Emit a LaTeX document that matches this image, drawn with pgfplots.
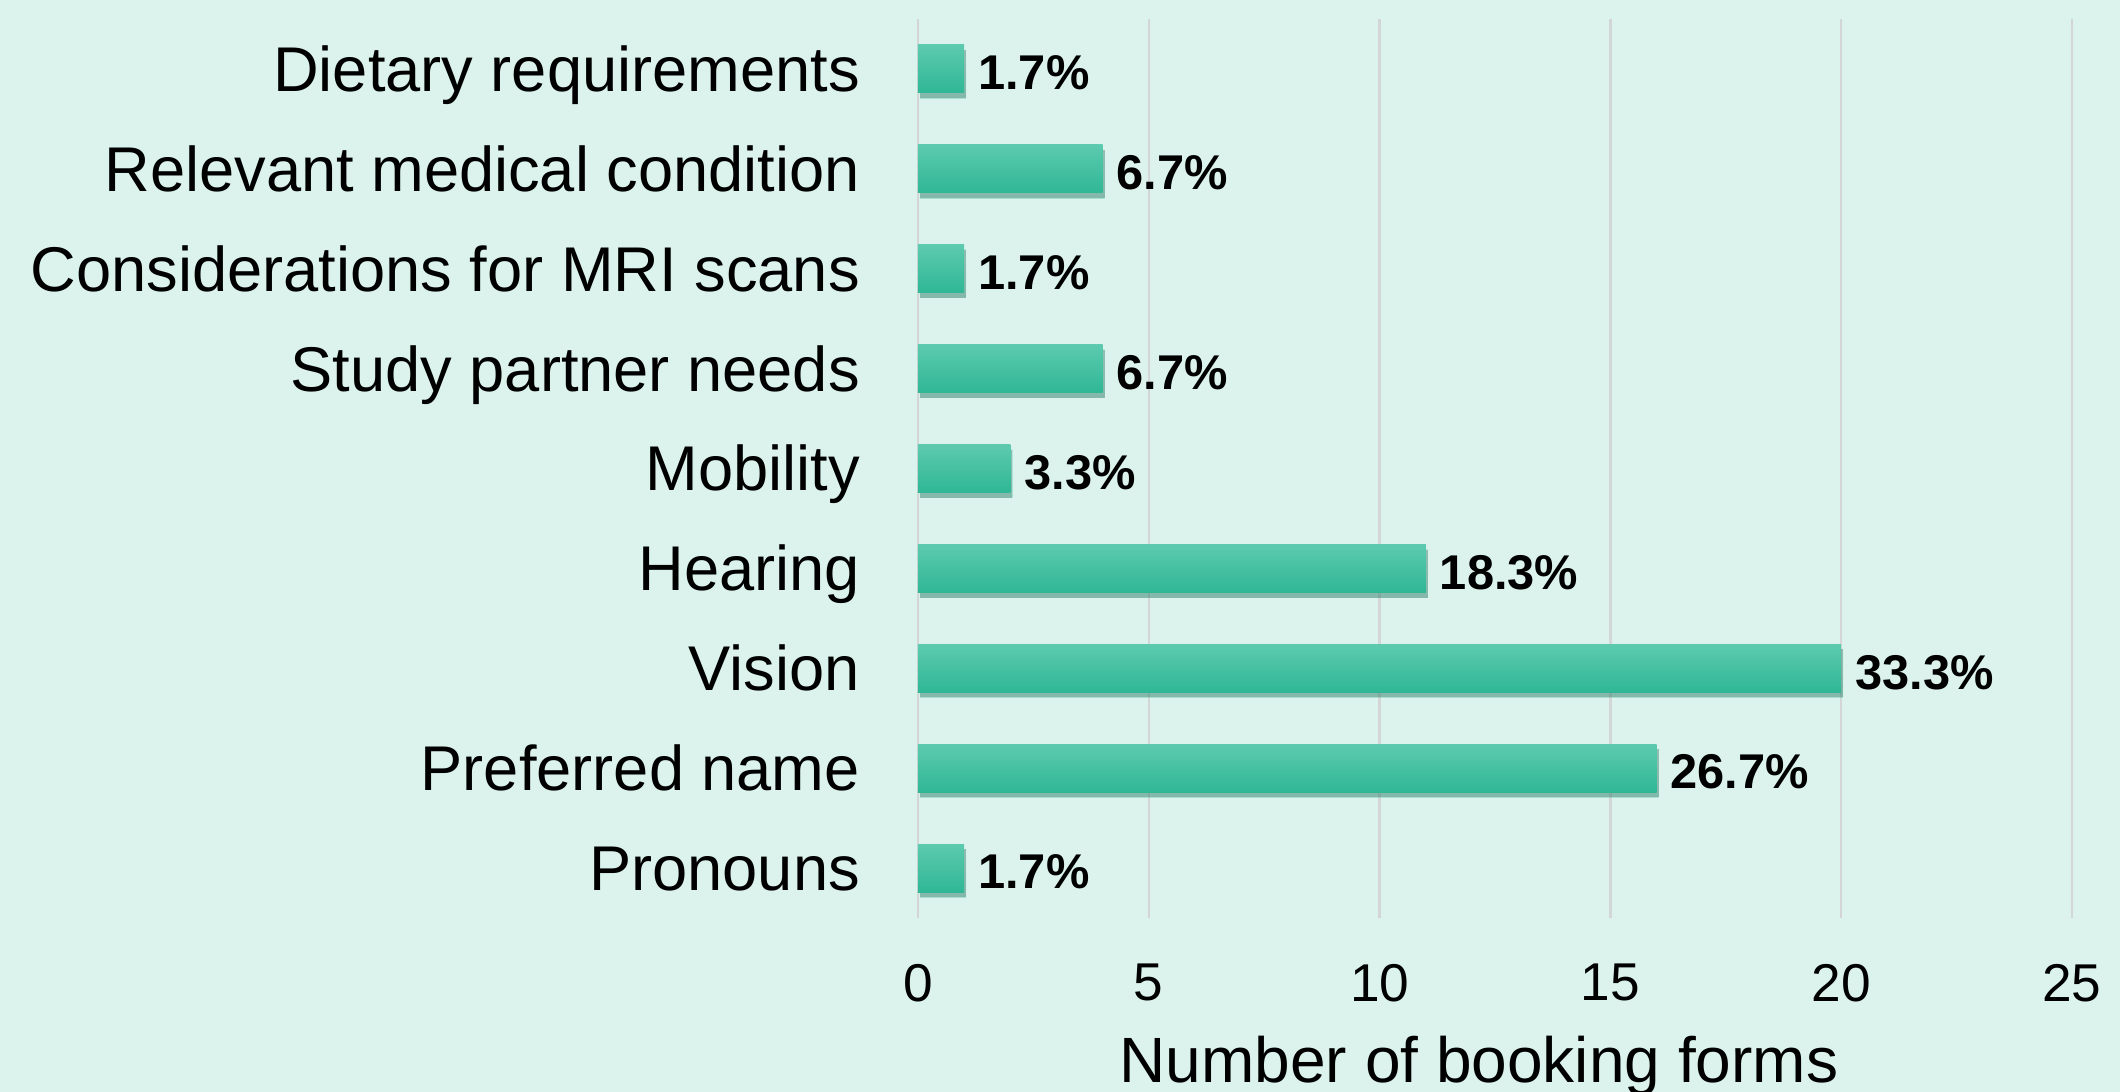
\documentclass[border=0pt]{standalone}
\usepackage{fontspec}
\setmainfont{Liberation Sans}
\usepackage{pgfplots}
\pgfplotsset{compat=1.18}
\usetikzlibrary{shadows}
\definecolor{bgc}{HTML}{DBF3EC}
\definecolor{bartop}{HTML}{5DCAAF}
\definecolor{barmid}{HTML}{42C9A8}
\definecolor{barbot}{HTML}{2FB795}
\definecolor{gridc}{HTML}{D3D6D4}
\pgfplotsset{onebar/.style={draw=none, bar shift=0pt, top color=bartop, middle color=barmid, bottom color=barbot,
  drop shadow={shadow xshift=0.5pt, shadow yshift=-1.3pt, opacity=0.3, fill=black!80}}}
\begin{document}
\begin{tikzpicture}
\path[use as bounding box] (-229.5pt,-43.5pt) rectangle (300.5pt,229.5pt);
\fill[bgc] (-229.5pt,-43.5pt) rectangle (300.5pt,229.5pt);
\begin{axis}[
  at={(0,0)}, anchor=south west,
  width=288.5pt, height=224.75pt, scale only axis,
  xbar, bar width=12pt,
  xmin=0, xmax=25, ymin=-0.5, ymax=8.5,
  enlargelimits=false,
  xtick={0,5,10,15,20,25},
  ytick={0,1,2,3,4,5,6,7,8},
  yticklabels={Pronouns,Preferred name,Vision,Hearing,Mobility,Study partner needs,Considerations for MRI scans,Relevant medical condition,Dietary requirements},
  axis line style={draw=none},
  major tick length=0pt,
  xmajorgrids, grid style={color=gridc, line width=0.6pt},
  /pgf/number format/assume math mode=true,
  xticklabel style={font=\fontsize{13.3}{15}\selectfont, anchor=north, yshift=-8pt},
  yticklabel style={font=\fontsize{15.8}{19}\selectfont, anchor=base east, xshift=-11pt, yshift=-5.6pt},
  xlabel={Number of booking forms},
  xlabel style={font=\fontsize{16}{19}\selectfont, at={(axis description cs:0.5,0)}, anchor=base, yshift=-41pt, xshift=-4pt},
  point meta=explicit symbolic,
  nodes near coords={\pgfplotspointmeta},
  nodes near coords style={font=\fontsize{12.2}{14}\bfseries\selectfont, anchor=west, xshift=0pt, yshift=-1pt, text=black},
  clip=false,
]
\addplot[onebar] coordinates {(1,0) [1.7\%]};
\addplot[onebar] coordinates {(16,1) [26.7\%]};
\addplot[onebar] coordinates {(20,2) [33.3\%]};
\addplot[onebar] coordinates {(11,3) [18.3\%]};
\addplot[onebar] coordinates {(2,4) [3.3\%]};
\addplot[onebar] coordinates {(4,5) [6.7\%]};
\addplot[onebar] coordinates {(1,6) [1.7\%]};
\addplot[onebar] coordinates {(4,7) [6.7\%]};
\addplot[onebar] coordinates {(1,8) [1.7\%]};
\end{axis}
\end{tikzpicture}
\end{document}
